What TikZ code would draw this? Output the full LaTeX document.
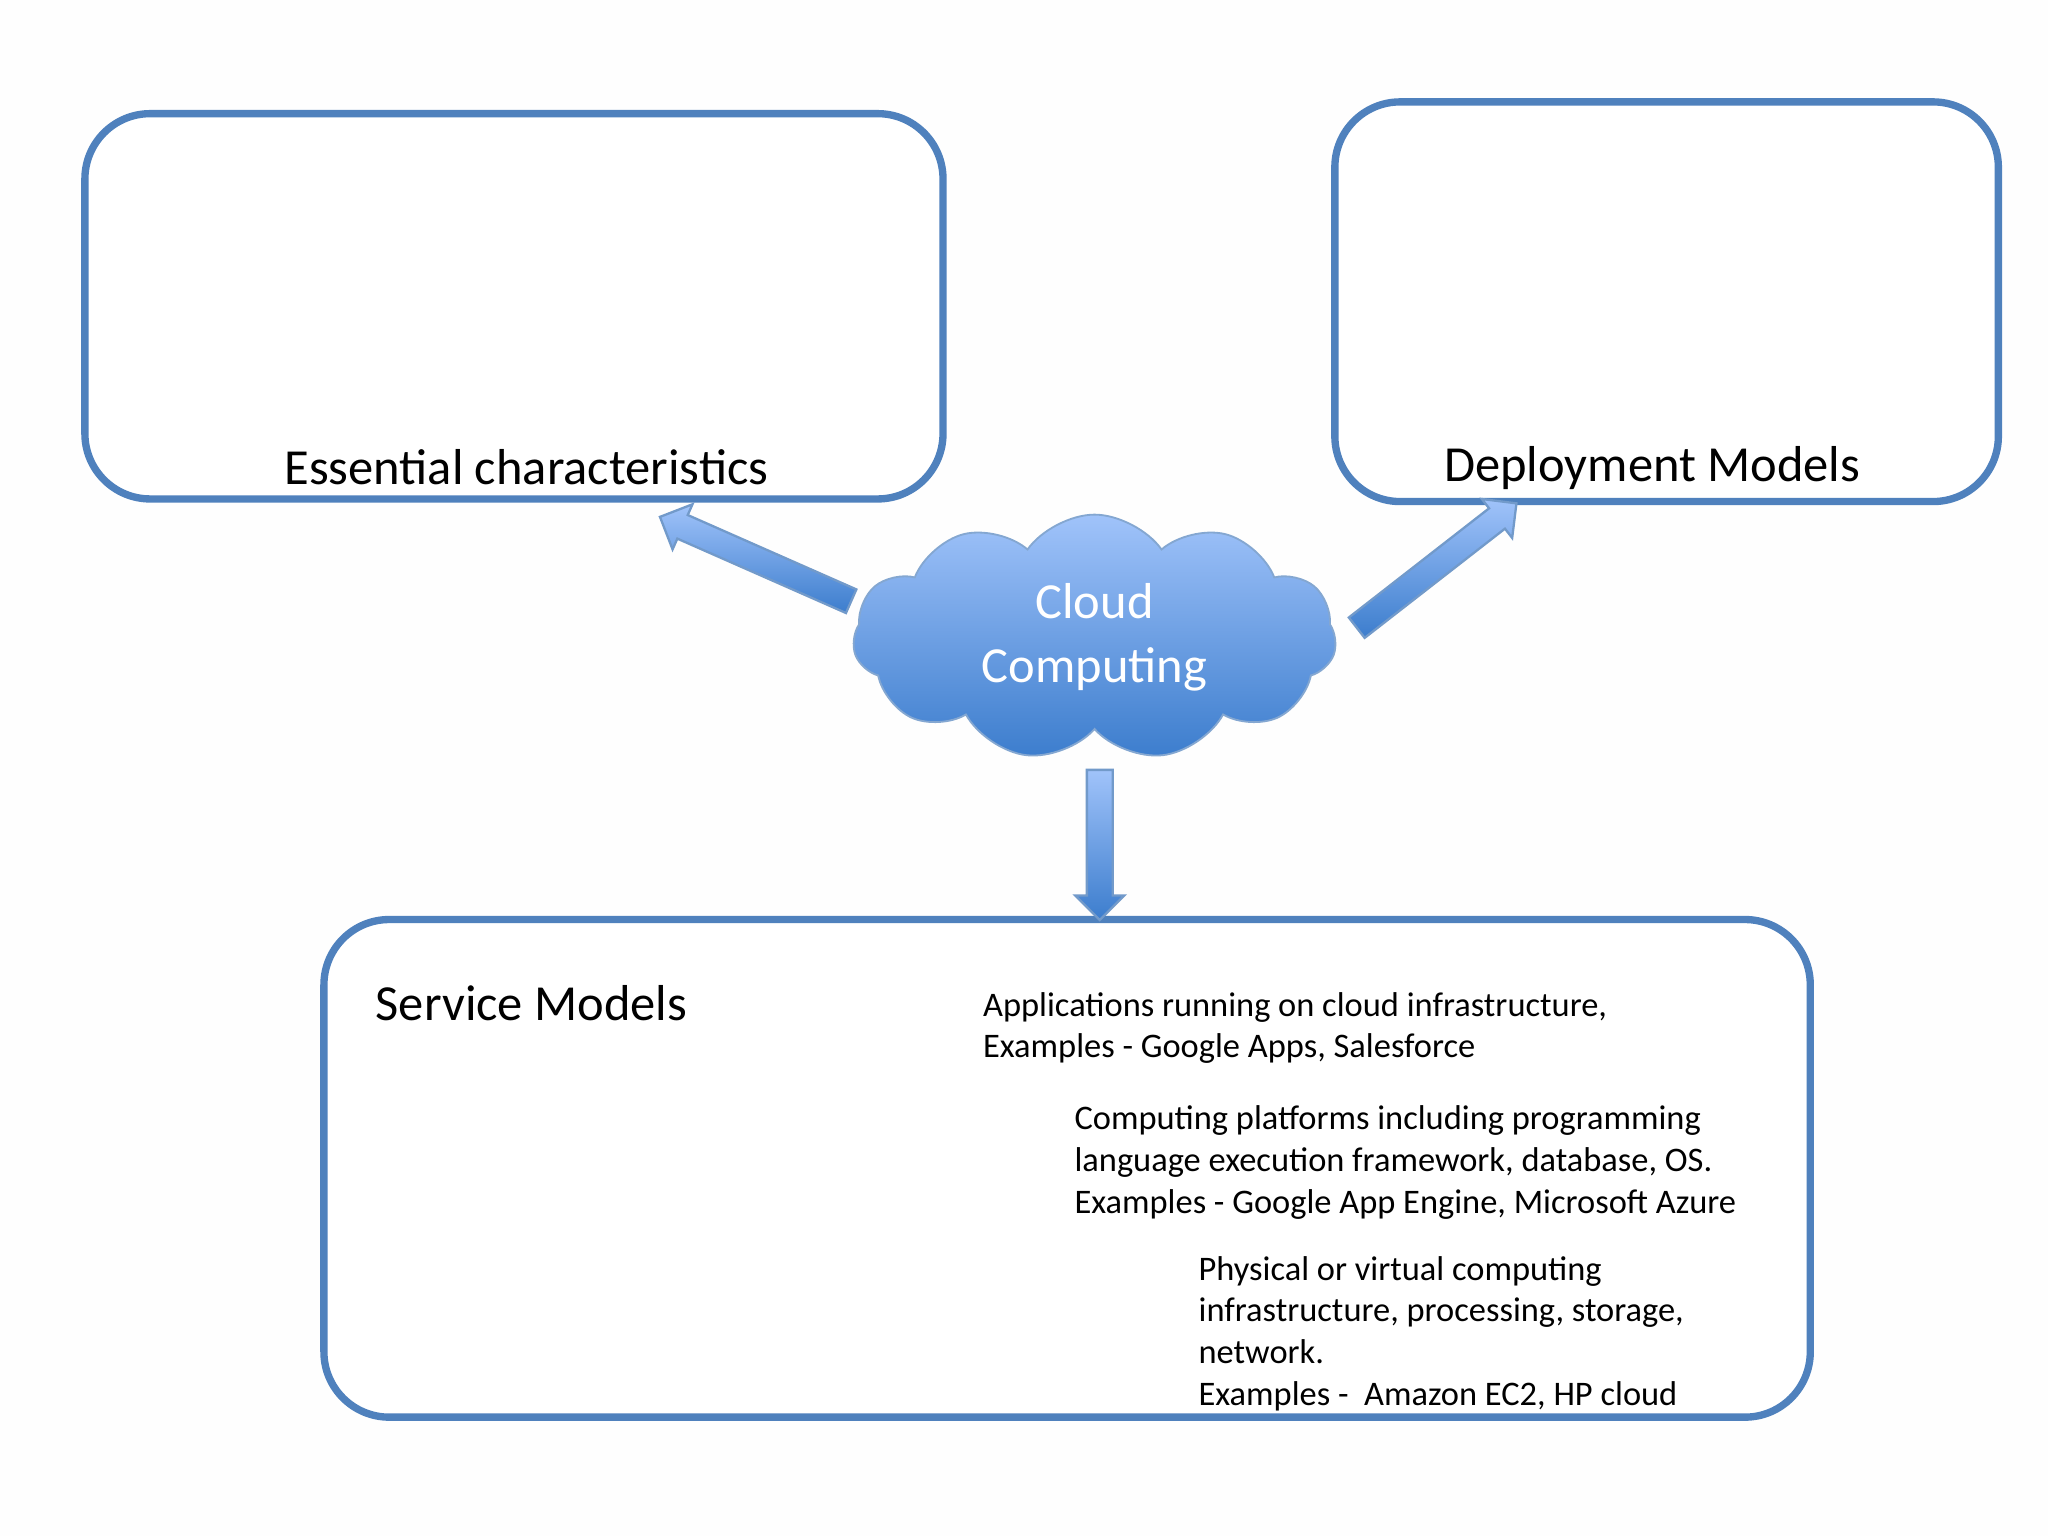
\documentclass[tikz,border=0pt]{standalone}
\usepackage{fontspec}
\setmainfont{Carlito}
\usetikzlibrary{shapes.symbols,shapes.arrows,positioning}
\definecolor{frame}{RGB}{79,129,189}
\definecolor{skyA}{RGB}{160,195,250}
\definecolor{skyB}{RGB}{60,125,205}
\tikzset{
  panel/.style={draw=frame, line width=1.6pt, rounded corners=5mm, fill=white},
  bigtxt/.style={font=\fontsize{11}{13}\selectfont, inner sep=0pt},
  smalltxt/.style={font=\fontsize{7.5}{9.1}\selectfont, align=left, anchor=north west, inner sep=0pt},
  fat arrow/.style={single arrow, draw=frame!80, line width=0.5pt, top color=skyA, bottom color=skyB,
    minimum height=#1, inner sep=0.9mm, minimum width=3.6mm, single arrow head extend=0.9mm}
}
\begin{document}
\begin{tikzpicture}[x=0.1mm, y=-0.1mm]
    \useasboundingbox (0,0) rectangle (1568,1176);
    \fill[white!99!gray] (0,0) rectangle (1568,1176);

    % boxes
    \draw[panel] (65,87) rectangle (722,382);
    \draw[panel] (1022,78) rectangle (1530,384);
    \draw[panel] (248,704) rectangle (1386,1085);
    \node[bigtxt] (ess) at (403,358) {Essential characteristics};
    \node[bigtxt] (dep) at (1265,358) {Deployment Models};
    \node[bigtxt, anchor=west] (svc) at (287,768) {Service Models};

    % cloud
    \node[cloud, cloud puffs=11, cloud puff arc=110, aspect=2, minimum width=37mm, minimum height=18.5mm,
      draw=frame!70, top color=skyA, bottom color=skyB, text=white,
      font=\fontsize{11}{14}\selectfont, align=center] (cc) at (838,488) {Cloud\\Computing};

    % arrows
    \node[fat arrow=16mm, rotate=156.2] (toess) at (583,430) {};
    \node[fat arrow=15.5mm, rotate=37.9] (todep) at (1096,436) {};
    \node[fat arrow=11.5mm, rotate=-90] (tosvc) at (842,642) {};

    % service texts
    \node[smalltxt] (saas) at (752,759) {Applications running on cloud infrastructure,\\Examples - Google Apps, Salesforce};
    \node[smalltxt] (paas) at (822,846) {Computing platforms including programming\\language execution framework, database, OS.\\Examples - Google App Engine, Microsoft Azure};
    \node[smalltxt] (iaas) at (917,961) {Physical or virtual computing\\infrastructure, processing, storage,\\network.\\Examples -\ \ Amazon EC2, HP cloud};
\end{tikzpicture}
\end{document}
